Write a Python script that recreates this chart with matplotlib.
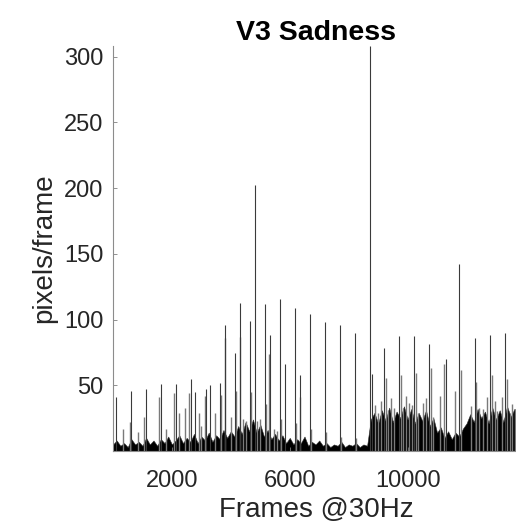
import numpy as np
import matplotlib.pyplot as plt

plt.rcParams['font.family'] = ['Liberation Sans', 'DejaVu Sans']

# main spikes (frame, pixels/frame)
spike_frames = [95, 616, 1125, 1633, 2142, 2650, 2773, 3169, 3294, 3621,
                3814, 4130, 4299, 4638, 4808, 5146, 5339, 5655, 5847, 6164,
                6356, 6672, 7181, 7689, 8198, 8718, 8785, 9215, 9723, 10231,
                10740, 11305, 11756, 12277, 12797, 13305]
spike_heights = [40.7, 45.7, 47, 50.8, 51.2, 54.8, 45, 47, 50.5, 52,
                 96, 74.7, 112.9, 98.5, 202, 111.6, 87.9, 115.7, 66, 108.8,
                 57.8, 104.5, 98.2, 96.2, 90.1, 308, 58.3, 78.3, 87.1, 87.1,
                 81.5, 70.2, 142, 85.6, 88.4, 89.4]

# smaller / secondary spikes
small_frames = [345, 570, 864, 1068, 1576, 1810, 2085, 2254, 2435, 2593,
                2932, 3000, 3113, 3474, 3667, 3791, 4020, 4186, 4322, 4400,
                4510, 4684, 4880, 5000, 5192, 5305, 5450, 5570, 5712, 6220,
                6340, 6729, 7237, 7746, 8254, 8900, 9000, 9100, 9271, 9320,
                9450, 9550, 9790, 9830, 9950, 10060, 10150, 10288, 10340,
                10510, 10620, 10797, 10850, 11102, 11248, 11610, 11814,
                12150, 12322, 12440, 12570, 12684, 12853, 12950, 13020,
                13192, 13362, 13470, 13560, 13644]
small_heights = [16.7, 22.2, 14.2, 25.5, 41.4, 16.7, 43.9, 29, 33, 44.4,
                 29, 19.2, 41.9, 29, 42.4, 86.1, 25.5, 45.7, 86.6, 24.2,
                 23, 45, 23, 24, 35.6, 73.5, 16.7, 15.4, 24.2, 21.2,
                 41, 16.7, 14.6, 11, 10, 35, 29, 38, 55.3, 31,
                 40, 33, 57.8, 32.7, 42, 36.6, 35, 59.6, 29,
                 36.6, 40, 62.9, 25.5, 41.9, 66, 45.7, 61.6,
                 34, 52.5, 33, 31.8, 40.7, 57.8, 38, 30.6,
                 40.7, 54.6, 29, 36, 32]

# upper level of the dense background noise, every 125 frames
base_level = [5, 8, 4, 6, 3, 9, 5, 7,
              4, 10, 5, 8, 4, 9, 6, 11,
              5, 8, 12, 6, 10, 7, 13, 6,
              11, 8, 14, 7, 12, 9, 16, 10,
              15, 11, 19, 13, 22, 15, 24, 14,
              20, 11, 16, 9, 13, 8, 12, 6,
              10, 5, 9, 6, 11, 4, 7, 5,
              8, 4, 6, 3, 5, 4, 7, 3,
              5, 4, 6, 3, 5, 4, 24, 29,
              21, 31, 23, 33, 22, 30, 25, 34,
              24, 32, 21, 29, 23, 31, 19, 25,
              14, 18, 10, 15, 9, 14, 11, 17,
              21, 28, 22, 32, 25, 30, 21, 33,
              24, 31, 22, 34, 26, 32, 29]
base_frames = np.arange(len(base_level)) * 125

fig = plt.figure(figsize=(5.16, 5.31), dpi=100)
ax = fig.add_axes([113 / 516, 1 - 451 / 531, 407 / 516, 405 / 531])

ax.fill_between(base_frames, 0, base_level, color='black', lw=0.4,
                edgecolor='#303030')
ax.vlines(small_frames, 0, small_heights, color='#7a7a7a', lw=1.0)
ax.vlines(spike_frames, 0, spike_heights, color='#3a3a3a', lw=0.8)

ax.set_xlim(0, 13815)
ax.set_ylim(0, 308)
ax.set_xticks([2000, 6000, 10000])
ax.set_yticks([50, 100, 150, 200, 250, 300])
ax.tick_params(direction='in', length=3, width=0.6, color='#808080',
               labelsize=17, labelcolor='#262626')
ax.tick_params(axis='x', pad=14)
ax.tick_params(axis='y', pad=7)
for s in ['top', 'right']:
    ax.spines[s].set_visible(False)
for s in ['left', 'bottom']:
    ax.spines[s].set_color('#8c8c8c')
    ax.spines[s].set_linewidth(0.8)

ax.set_title('V3 Sadness', fontsize=20.5, fontweight='bold', pad=3)
ax.set_xlabel('Frames @30Hz', fontsize=20, color='#262626', labelpad=3)
ax.set_ylabel('pixels/frame', fontsize=20, color='#262626', labelpad=5)

plt.savefig('out.png', dpi=100)
